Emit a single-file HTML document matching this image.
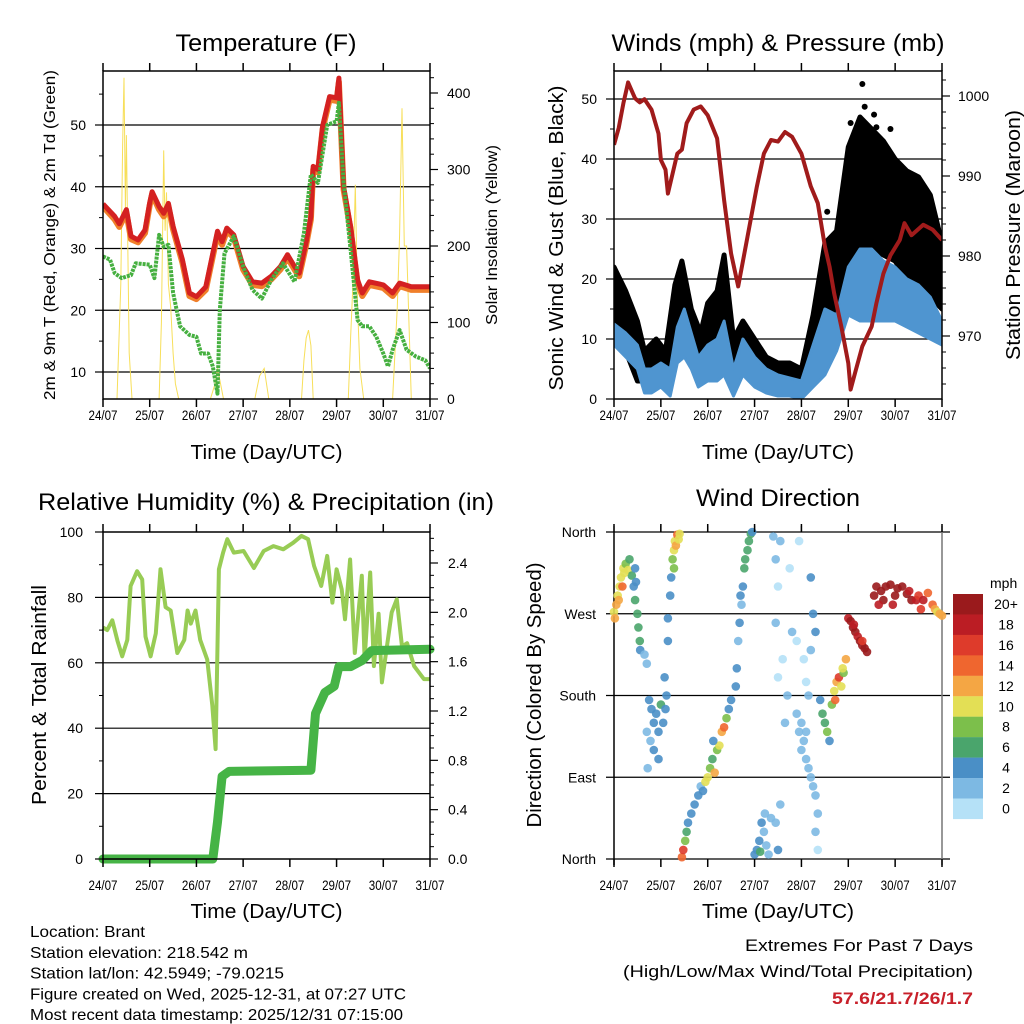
<!DOCTYPE html>
<html><head><meta charset="utf-8"><style>
html,body{margin:0;padding:0;background:#fff;}
svg{display:block;font-family:"Liberation Sans",sans-serif;}
</style></head><body>
<svg id="c" width="1024" height="1024" viewBox="0 0 1024 1024" xmlns="http://www.w3.org/2000/svg">
<defs>
<clipPath id="clipT"><rect x="103" y="71" width="327" height="328"/></clipPath>
<clipPath id="clipW"><rect x="614" y="71" width="328" height="328"/></clipPath>
</defs>
</svg>
<script>
// ---------- DATA ----------
const tDays=[0,0.25,0.35,0.5,0.6,0.75,0.9,1.0,1.05,1.2,1.3,1.4,1.5,1.7,1.85,2.0,2.2,2.35,2.45,2.55,2.65,2.8,3.0,3.2,3.4,3.6,3.8,3.95,4.1,4.2,4.35,4.45,4.5,4.6,4.7,4.85,5.0,5.05,5.15,5.3,5.45,5.55,5.7,6.0,6.2,6.35,6.6,7.0];
const tempRed=[37.2,35.2,34,36.3,32,31.4,33,37.4,39.2,36.8,35.7,37.3,33.6,28.2,22.8,22.2,23.8,29.2,32.8,31.1,33.3,32.2,27.1,24.6,24.4,25.5,27.1,29,27.1,26,31.1,35.2,43.3,42.8,49.8,54.6,54.4,57.6,40,33.6,24.9,22.8,24.6,24.1,22.8,24.4,23.8,23.8];
const tempOrange=[36.8,34.7,33.5,35.8,31.5,31,32.5,37,38.8,36.3,35.2,36.8,33.1,27.7,22.3,21.8,23.3,28.7,32.3,30.6,32.8,31.8,26.6,24.1,23.9,25,26.6,28.5,26.6,25.5,30.6,34.7,42.8,42.3,49.3,54.1,53.9,57,39.5,33.1,24.4,22.3,24.1,23.6,22.3,23.9,23.3,23.3];
const tdDays=[0,0.15,0.25,0.4,0.6,0.7,1.0,1.1,1.2,1.3,1.4,1.5,1.65,1.85,2.0,2.1,2.25,2.35,2.45,2.5,2.6,2.8,3.0,3.2,3.4,3.6,3.85,4.1,4.3,4.45,4.6,4.8,5.0,5.05,5.15,5.3,5.45,5.55,5.7,5.85,6.0,6.1,6.2,6.35,6.5,6.7,6.9,7.0];
const dewpoint=[28.7,28.2,26,25.2,25.7,27.6,27.4,25.2,32.2,30.3,30.6,22.8,17.4,16,15.7,13,13,10.9,6.5,20,29.2,32,27.1,23.3,21.9,24.9,27.6,24.6,32.5,42,40.6,50,50.6,53.6,40.6,29.8,18.4,17.4,17.4,15.7,13,10.9,13.6,16.8,13.6,12.5,11.9,10.6];
const solarDays=[0,0.3,0.38,0.42,0.45,0.48,0.5,0.53,0.56,0.62,1.2,1.25,1.3,1.33,1.36,1.4,1.45,1.5,1.55,1.62,2.3,2.4,2.45,2.5,2.58,3.25,3.35,3.45,3.55,4.25,4.3,4.35,4.4,4.45,4.5,5.25,5.3,5.35,5.4,5.45,5.5,5.58,6.2,6.3,6.35,6.4,6.45,6.5,6.6,7.0];
const solarVal=[0,0,150,330,420,250,345,200,60,0,0,100,325,220,270,150,120,60,20,0,0,20,40,25,0,0,30,40,0,0,50,80,90,70,0,0,80,150,280,120,40,0,0,120,215,380,200,200,0,0];
const pDays=[0,0.1,0.2,0.3,0.45,0.55,0.65,0.8,0.95,1.0,1.1,1.15,1.25,1.35,1.45,1.55,1.7,1.85,2.0,2.2,2.35,2.5,2.65,2.85,3.05,3.2,3.35,3.5,3.65,3.8,4.0,4.2,4.35,4.5,4.6,4.7,4.85,5.0,5.05,5.15,5.3,5.5,5.6,5.75,5.9,6.1,6.2,6.35,6.6,6.8,7.0];
const pressure=[993.9,996,999.1,1001.7,999.7,999.2,999.6,998.3,995.3,992,990.8,987.8,990.3,992.8,993.3,996.6,998.3,998.7,997.6,994.7,987,980.3,976.2,982.4,988.7,992.8,994.5,994.3,995.5,994.9,992.8,988.7,986.6,981.2,978.7,975.3,971.2,966.6,963.3,965.5,968.7,971.2,974.1,977.8,980.1,982,984.1,982.6,983.9,983.3,982];
const wDays=[0,0.25,0.5,0.65,0.8,1.0,1.2,1.35,1.5,1.65,1.8,2.0,2.2,2.35,2.55,2.75,3.0,3.25,3.5,3.75,4.0,4.25,4.5,4.75,5.0,5.25,5.5,5.75,6.0,6.25,6.5,6.75,7.0];
const windLow=[9,7,5,1,1,2,0.5,6,7,5,2,3,3,4,0.5,4,2,1,0.5,0.5,0,2,4,8,14,13,13,13,13,12,11,10,9];
const windHigh=[12.5,11,9,5,5,6,5,12,15,11,7,9,10,13,5,10,7,5,4,3.5,3,9,15,14,22,25,25,23,22,20,19,17,13];
const gDays=[0,0.25,0.5,0.65,0.9,1.1,1.3,1.45,1.65,1.85,2.0,2.2,2.35,2.55,2.75,3.0,3.25,3.5,3.75,4.0,4.25,4.5,4.75,5.0,5.25,5.5,5.75,6.0,6.25,6.5,6.75,7.0];
const gustLow=[10,8,3,3,4,3,9,11,6,5,7,8,10,3,7,5,3,2,2,2,4,10,11,20,25,25,24,23,20,19,17,15];
const gustHigh=[22,18,13,8,10,8,19,23,15,11,16,18,24,10,13,10,7,6,6,5,14,26,28,42,47,45,43,40,38,37,34,26];
const gustPeakDays=[5.3,5.35,5.55,5.9,4.55,5.05,5.6];
const gustPeakVals=[52.5,48.7,47.4,45,31.2,46,45.3];
const rhDays=[0,0.09,0.2,0.31,0.41,0.52,0.59,0.73,0.84,0.91,1.02,1.13,1.23,1.34,1.45,1.59,1.74,1.81,1.88,1.98,2.08,2.23,2.34,2.41,2.48,2.57,2.66,2.8,3.01,3.23,3.44,3.65,3.86,4.07,4.25,4.39,4.52,4.67,4.8,4.91,5.0,5.11,5.18,5.29,5.39,5.54,5.6,5.72,5.8,5.9,5.97,6.18,6.29,6.4,6.51,6.66,6.87,7.0];
const rhVals=[70.8,70,73,66.7,62,67,83.5,88,85.5,68,62,69,88.6,77,76,63,67,76,72,76,67,61,47,33.6,88.6,93.7,97.8,93.7,94.2,89,94.2,95.7,94.7,96.7,98.8,97.8,89.6,83.5,92.7,78.4,88.6,82.5,73.3,91.6,63,86.6,61,87.6,59,75,54,75.4,79.4,65,66,59,55,55];
const prDays=[0,2.35,2.45,2.55,2.7,4.45,4.55,4.75,4.95,5.05,5.3,5.55,5.75,7.0];
const precip=[0,0,0.3,0.67,0.71,0.72,1.18,1.35,1.4,1.56,1.56,1.61,1.69,1.7];
const wdDays=[0.0,0.05,0.08,0.12,0.15,0.2,0.25,0.3,0.33,0.38,0.42,0.45,0.5,0.52,0.55,0.56,0.45,0.47,0.1,0.18,0.22,0.02,
0.65,0.7,0.75,0.8,0.85,0.9,0.95,1.0,1.05,1.1,0.7,0.78,0.85,0.72,0.95,1.12,1.08,1.15,
1.15,1.2,1.22,1.25,1.28,1.3,1.35,1.4,1.28,1.32,1.38,
1.45,1.48,1.52,1.55,1.58,
1.65,1.72,1.8,1.85,1.9,2.0,2.05,2.1,2.15,2.2,2.25,2.3,2.35,2.4,2.45,2.5,1.95,2.12,
2.6,2.62,2.65,2.68,2.72,2.75,2.78,2.8,2.85,2.88,2.92,2.95,2.7,
3.0,3.05,3.1,3.15,3.2,3.25,3.3,3.35,3.45,3.5,3.55,3.12,3.22,
3.4,3.45,3.5,3.55,3.45,3.5,3.6,3.7,3.75,3.8,3.65,3.9,3.95,4.05,4.2,4.25,4.3,4.2,4.15,4.1,
3.9,3.95,4.0,4.05,4.1,4.15,4.2,4.25,4.3,4.35,4.0,4.1,4.3,4.35,
4.4,4.45,4.5,4.55,4.6,4.65,4.7,4.75,4.8,4.85,4.9,4.95,4.72,4.88,
5.0,5.05,5.1,5.15,5.2,5.25,5.3,5.35,5.4,5.12,5.3,
5.55,5.6,5.7,5.75,5.8,5.9,6.0,6.05,6.15,6.25,6.35,6.45,6.5,6.6,6.7,6.8,6.85,6.9,6.95,7.0,5.65,5.95,6.3,6.55];
const wdDir=[272,280,290,300,310,320,325,318,330,312,300,285,270,255,240,230,320,305,285,300,315,265,
225,215,175,165,150,160,140,170,150,165,140,130,120,100,110,180,200,240,
265,290,310,330,340,350,357,358,320,345,352,
2,10,20,30,40,
50,60,70,80,75,90,100,110,95,120,125,140,145,155,165,175,85,130,
190,210,240,260,280,300,320,330,340,350,358,360,290,
5,10,20,40,30,15,5,45,40,10,60,8,50,
355,330,300,350,260,200,220,180,320,250,150,240,350,220,310,270,250,230,180,195,
160,140,120,130,110,100,90,80,70,50,150,140,30,10,
175,160,150,140,130,170,185,195,200,190,205,220,175,210,
265,262,255,250,245,240,235,232,228,258,240,
290,300,295,285,300,302,290,298,300,292,285,285,290,285,293,280,275,272,270,268,280,280,295,275];
const wdSpeed=[10,12,10,10,10,10,8,10,6,6,4,6,6,6,6,4,4,4,12,14,10,12,
2,2,4,4,4,4,4,6,4,4,2,2,4,2,4,4,4,4,
4,4,4,8,10,10,14,10,8,12,10,
14,16,8,6,4,
4,4,4,2,4,10,8,6,12,8,10,12,14,8,4,4,10,4,
4,4,2,4,2,4,6,6,6,6,6,4,4,
4,4,4,4,2,2,2,2,2,4,2,6,2,
2,2,0,2,2,0,0,2,0,2,2,0,0,0,4,4,4,2,2,0,
2,2,2,2,2,2,2,2,2,2,2,2,2,0,
4,6,6,8,4,8,10,12,16,10,8,12,14,10,
18,20,20,20,18,20,20,20,20,18,16,
20,20,20,20,20,20,20,20,20,20,20,18,16,18,14,14,12,10,12,12,18,18,18,16];
const speedLabels=["20+","18","16","14","12","10","8","6","4","2","0"];
const speedColors=["#b5e1f7","#7db9e3","#4a8fc6","#4aa56c","#7cbf4b","#e3df55","#f4a644","#ef662f","#de3b2b","#bb1d24","#9a1a1c"];
const dayLabels=["24/07","25/07","26/07","27/07","28/07","29/07","30/07","31/07"];

// ---------- DRAW ----------
const NS="http://www.w3.org/2000/svg";
const svg=document.getElementById('c');
function el(tag,attrs,parent){const e=document.createElementNS(NS,tag);for(const k in attrs)e.setAttribute(k,attrs[k]);(parent||svg).appendChild(e);return e;}
function txt(x,y,s,size,anchor,len,extra,parent){const a={x:x,y:y,'font-size':size,'text-anchor':anchor||'start',fill:'#000'};if(len){a.textLength=len;a.lengthAdjust='spacingAndGlyphs';}if(extra)for(const k in extra)a[k]=extra[k];const t=el('text',a,parent);t.textContent=s;return t;}
function panelScale(x0,x1){return d=>x0+(x1-x0)*d/7;}
function lin(v0,y0,v1,y1){return v=>y0+(y1-y0)*(v-v0)/(v1-v0);}
function pathOf(xs,ys,fx,fy){return xs.map((d,i)=>(i?'L':'M')+fx(d).toFixed(1)+','+fy(ys[i]).toFixed(1)).join('');}
function bandOf(xs,lo,hi,fx,fy){let p=xs.map((d,i)=>(i?'L':'M')+fx(d).toFixed(1)+','+fy(hi[i]).toFixed(1)).join('');for(let i=xs.length-1;i>=0;i--)p+='L'+fx(xs[i]).toFixed(1)+','+fy(lo[i]).toFixed(1);return p+'Z';}

function xAxis(g,fx,top,bot,labY,titleY,name){
  for(let i=0;i<8;i++){const x=fx(i);
    const t1=el('line',{x1:x,y1:bot,x2:x,y2:bot+8,stroke:'#000','stroke-width':1.5},g);
    
    el('line',{x1:x,y1:top-8,x2:x,y2:top,stroke:'#000','stroke-width':1.5},g);
    const l=txt(x,labY,dayLabels[i],14,'middle',29,null,g);
    
  }
  const ti=txt((fx(0)+fx(7))/2,titleY,'Time (Day/UTC)',20,'middle',152,null,g);
  
}
function yTicks(g,x,side,vals,fy,labels,labX,minor,name){
  const dir=side==='left'?-1:1;
  vals.forEach((v,i)=>{const y=fy(v);el('line',{x1:x,y1:y,x2:x+dir*8,y2:y,stroke:'#000','stroke-width':1.2},g);
    if(labels){const l=txt(labX,y+5,labels[i],14,side==='left'?'end':'start',null,null,g);
      }});
  if(minor)minor.forEach(v=>{const y=fy(v);el('line',{x1:x,y1:y,x2:x+dir*4,y2:y,stroke:'#000','stroke-width':1},g);});
}
function grid(g,x0,x1,ys,color){ys.forEach(y=>el('line',{x1:x0,y1:y,x2:x1,y2:y,stroke:color||'#000','stroke-width':1.2},g));}
function frame(g,x0,y0,x1,y1){el('rect',{x:x0,y:y0,width:x1-x0,height:y1-y0,fill:'none',stroke:'#000','stroke-width':1.5},g);}
function vtitle(g,x,y,s,size,len,rot,name){const t=txt(0,0,s,size,'middle',len,{transform:'translate('+x+','+y+') rotate('+(rot||-90)+')'},g);return t;}

// ===== Temperature panel =====
(function(){
  const g=el('g',{});
  const X0=103,X1=430,Y0=71,Y1=399;
  const fx=panelScale(X0,X1), fy=lin(10,372,50,125), fs=lin(0,399,400,93);
  const t=txt(266,51,'Temperature (F)',24,'middle',181,null,g);
  grid(g,X0,X1,[10,20,30,40,50].map(fy));
  const cg=el('g',{'clip-path':'url(#clipT)'},g);
  const sol=el('path',{d:pathOf(solarDays,solarVal,fx,fs),fill:'none',stroke:'#f7df5a','stroke-width':1},cg);
  
  const o=el('path',{d:pathOf(tDays,tempOrange,fx,fy),fill:'none',stroke:'#f07f2a','stroke-width':6,'stroke-linejoin':'round'},cg);
  
  const r=el('path',{d:pathOf(tDays,tempRed,fx,fy),fill:'none',stroke:'#d42121','stroke-width':5,'stroke-linejoin':'round'},cg);
  
  const d=el('path',{d:pathOf(tdDays,dewpoint,fx,fy),fill:'none',stroke:'#46b040','stroke-width':4,'stroke-dasharray':'3,1','stroke-linejoin':'round'},cg);
  
  frame(g,X0,Y0,X1,Y1);
  yTicks(g,X0,'left',[10,20,30,40,50],fy,['10','20','30','40','50'],86,[15,25,35,45,55],'temp-left');
  yTicks(g,X1,'right',[0,100,200,300,400],fs,['0','100','200','300','400'],447,[20,40,60,80,120,140,160,180,220,240,260,280,320,340,360,380,420],'solar-right');
  xAxis(g,fx,Y0,Y1,420,459,'temp');
  vtitle(g,55,235,'2m & 9m T (Red, Orange) & 2m Td (Green)',16,330,-90,'temp-y-axis-title');
  vtitle(g,497,235,'Solar Insolation (Yellow)',16,180,-90,'solar-y-axis-title');
})();

// ===== Winds panel =====
(function(){
  const g=el('g',{});
  const X0=614,X1=942,Y0=71,Y1=399;
  const fx=panelScale(X0,X1), fy=lin(0,399,50,99), fp=lin(970,336,1000,96);
  const t=txt(778,51,'Winds (mph) & Pressure (mb)',24,'middle',333,null,g);
  grid(g,X0,X1,[10,20,30,40,50].map(fy));
  const cg=el('g',{'clip-path':'url(#clipW)'},g);
  const gb=el('path',{d:bandOf(gDays,gustLow,gustHigh,fx,fy),fill:'#000',stroke:'#000','stroke-width':5,'stroke-linejoin':'round'},cg);
  
  gustPeakDays.forEach((dd,i)=>{const c=el('circle',{cx:fx(dd),cy:fy(gustPeakVals[i]),r:3,fill:'#000'},cg);
    });
  const wb=el('path',{d:bandOf(wDays,windLow,windHigh,fx,fy),fill:'#4f95d0',stroke:'#4f95d0','stroke-width':3,'stroke-linejoin':'round'},cg);
  
  const p=el('path',{d:pathOf(pDays,pressure,fx,fp),fill:'none',stroke:'#a01b1b','stroke-width':4,'stroke-linejoin':'round'},cg);
  
  frame(g,X0,Y0,X1,Y1);
  yTicks(g,X0,'left',[0,10,20,30,40,50],fy,['0','10','20','30','40','50'],597,[5,15,25,35,45],'wind-left');
  yTicks(g,X1,'right',[970,980,990,1000],fp,['970','980','990','1000'],958,[964,966,968,972,974,976,978,982,984,986,988,992,994,996,998,1002],'pressure-right');
  xAxis(g,fx,Y0,Y1,420,459,'winds');
  vtitle(g,563,238,'Sonic Wind & Gust (Blue, Black)',20,305,-90,'wind-y-axis-title');
  vtitle(g,1020,235,'Station Pressure (Maroon)',20,250,-90,'pressure-y-axis-title');
})();

// ===== RH panel =====
(function(){
  const g=el('g',{});
  const X0=103,X1=430,Y0=532,Y1=859;
  const fx=panelScale(X0,X1), fy=lin(0,859,100,532), fr=lin(0,859,2.4,563);
  const t=txt(266,510,'Relative Humidity (%) & Precipitation (in)',24,'middle',456,null,g);
  grid(g,X0,X1,[20,40,60,80].map(fy));
  const rh=el('path',{d:pathOf(rhDays,rhVals,fx,fy),fill:'none',stroke:'#98cc55','stroke-width':4,'stroke-linejoin':'round'},g);
  
  const pr=el('path',{d:pathOf(prDays,precip,fx,fr),fill:'none',stroke:'#46b446','stroke-width':9,'stroke-linejoin':'round','stroke-linecap':'round'},g);
  
  frame(g,X0,Y0,X1,Y1);
  yTicks(g,X0,'left',[0,20,40,60,80,100],fy,['0','20','40','60','80','100'],83,[10,30,50,70,90],'rh-left');
  yTicks(g,X1,'right',[0,0.4,0.8,1.2,1.6,2.0,2.4],fr,['0.0','0.4','0.8','1.2','1.6','2.0','2.4'],448,[0.1,0.2,0.3,0.5,0.6,0.7,0.9,1.0,1.1,1.3,1.4,1.5,1.7,1.8,1.9,2.1,2.2,2.3,2.5,2.6],'precip-right');
  xAxis(g,fx,Y0,Y1,890,918,'rh');
  vtitle(g,46,695,'Percent & Total Rainfall',20,220,-90,'rh-y-axis-title');
})();

// ===== Wind direction panel =====
(function(){
  const g=el('g',{});
  const X0=614,X1=942,Y0=532,Y1=859;
  const fx=panelScale(X0,X1), fy=lin(0,859,360,532);
  const t=txt(778,506,'Wind Direction',24,'middle',164,null,g);
  const dirLabs=['North','East','South','West','North'];
  [0,90,180,270,360].forEach((v,i)=>{const y=fy(v);el('line',{x1:606,y1:y,x2:950,y2:y,stroke:'#000','stroke-width':1.2},g);
    const l=txt(596,y+5,dirLabs[i],14,'end',null,null,g);});
  el('line',{x1:X0,y1:Y0,x2:X0,y2:Y1+6,stroke:'#000','stroke-width':1.5},g);
  el('line',{x1:X1,y1:Y0,x2:X1,y2:Y1+6,stroke:'#777','stroke-width':1.5},g);
  wdDays.forEach((dd,i)=>{const idx=Math.min(10,Math.floor(wdSpeed[i]/2));
    const c=el('circle',{cx:fx(dd).toFixed(1),cy:fy(wdDir[i]).toFixed(1),r:4.3,fill:speedColors[idx],'fill-opacity':0.9},g);
    });
  for(let i=0;i<8;i++){const x=fx(i);el('line',{x1:x,y1:Y0-6,x2:x,y2:Y0,stroke:'#000','stroke-width':1.2},g);}
  xAxis(g,fx,Y0,Y1,890,918,'direction');
  vtitle(g,541,695,'Direction (Colored By Speed)',20,265,-90,'direction-y-axis-title');
  const lg=el('g',{},g);
  const lt=txt(990,588,'mph',14,'start',null,null,lg);
  speedLabels.forEach((s,i)=>{const y=594+i*20.45;
    const r=el('rect',{x:953,y:y,width:30,height:20.6,fill:speedColors[10-i]},lg);
    
    const l=txt(1006,y+15,s,14,'middle',null,null,lg);});
})();

// ===== Footer text =====
(function(){
  const g=el('g',{});
  const lines=[['Location: Brant',115],['Station elevation: 218.542 m',218],['Station lat/lon: 42.5949; -79.0215',254],['Figure created on Wed, 2025-12-31, at 07:27 UTC',376],['Most recent data timestamp: 2025/12/31 07:15:00',373]];
  lines.forEach((l,i)=>{const t=txt(30,937+i*20.8,l[0],16,'start',l[1],null,g);});
  const e=el('g',{});
  let t=txt(973,951,'Extremes For Past 7 Days',17,'end',228,null,e);
  t=txt(973,977,'(High/Low/Max Wind/Total Precipitation)',17,'end',350,null,e);
  t=txt(973,1004,'57.6/21.7/26/1.7',17,'end',141,{fill:'#c8202a','font-weight':'bold'},e);
})();
</script>
</body></html>
